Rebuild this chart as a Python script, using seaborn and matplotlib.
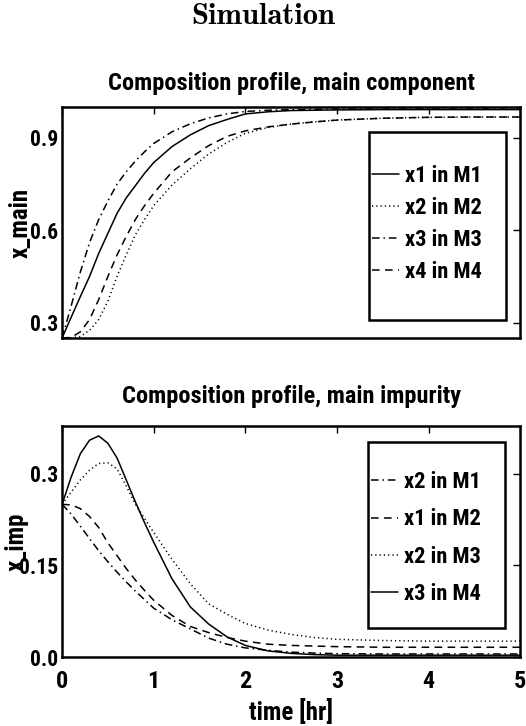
import numpy as np
import pandas as pd
import matplotlib
matplotlib.use("Agg")
import matplotlib.pyplot as plt
from matplotlib import font_manager
from matplotlib.patches import Rectangle
import seaborn as sns

# time grid [hr]
t = [0, 0.1, 0.2, 0.3, 0.4, 0.5, 0.6, 0.7, 0.8, 0.9, 1.0, 1.2, 1.4, 1.6, 1.8,
     2.0, 2.25, 2.5, 2.75, 3.0, 3.5, 4.0, 4.5, 5.0]

# main component profiles
x1_m1 = [0.25, 0.318, 0.385, 0.45, 0.525, 0.59, 0.655, 0.705, 0.745, 0.785, 0.82,
         0.872, 0.91, 0.94, 0.96, 0.978, 0.985, 0.989, 0.99, 0.991, 0.992, 0.992, 0.992, 0.992]
x2_m2 = [0.25, 0.25, 0.255, 0.275, 0.31, 0.37, 0.45, 0.52, 0.585, 0.635, 0.68,
         0.747, 0.8, 0.848, 0.885, 0.915, 0.934, 0.945, 0.952, 0.958, 0.964, 0.967, 0.968, 0.968]
x3_m3 = [0.25, 0.355, 0.465, 0.56, 0.635, 0.695, 0.75, 0.79, 0.825, 0.855, 0.882,
         0.92, 0.946, 0.965, 0.978, 0.986, 0.99, 0.992, 0.993, 0.994, 0.994, 0.994, 0.994, 0.994]
x4_m4 = [0.25, 0.252, 0.27, 0.31, 0.375, 0.45, 0.52, 0.58, 0.635, 0.68, 0.72,
         0.79, 0.835, 0.875, 0.905, 0.923, 0.936, 0.945, 0.952, 0.958, 0.964, 0.967, 0.968, 0.968]

# main impurity profiles
x2_m1 = [0.25, 0.234, 0.214, 0.194, 0.174, 0.156, 0.139, 0.123, 0.108, 0.094, 0.08,
         0.061, 0.046, 0.031, 0.021, 0.015, 0.011, 0.008, 0.0065, 0.0055, 0.005, 0.005, 0.005, 0.005]
x1_m2 = [0.25, 0.249, 0.243, 0.23, 0.212, 0.187, 0.166, 0.145, 0.126, 0.109, 0.093,
         0.068, 0.05, 0.04, 0.032, 0.026, 0.021, 0.019, 0.018, 0.017, 0.016, 0.016, 0.016, 0.016]
x2_m3 = [0.25, 0.27, 0.29, 0.306, 0.317, 0.318, 0.308, 0.28, 0.25, 0.227, 0.204,
         0.16, 0.12, 0.087, 0.07, 0.055, 0.044, 0.037, 0.032, 0.029, 0.027, 0.026, 0.026, 0.026]
x3_m4 = [0.25, 0.295, 0.333, 0.355, 0.362, 0.35, 0.326, 0.29, 0.254, 0.22, 0.188,
         0.128, 0.082, 0.054, 0.033, 0.019, 0.01, 0.006, 0.004, 0.003, 0.003, 0.003, 0.003, 0.003]

main_labels = ["x1 in M1", "x2 in M2", "x3 in M3", "x4 in M4"]
imp_labels = ["x2 in M1", "x1 in M2", "x2 in M3", "x3 in M4"]

SOLID = "-"
DOT = (0, (0.8, 2.0))
DASHDOT = (0, (5, 2.5, 1, 2.5))
DASH = (0, (5, 3.5))

sns.set_style("white")

# prefer a condensed sans if there is one, else plain Liberation Sans
avail = {f.name for f in font_manager.fontManager.ttflist}
fam = "Liberation Sans"
k = 1.0
for cand in ["Liberation Sans Narrow", "Roboto Condensed", "Open Sans Condensed"]:
    if cand in avail:
        fam, k = cand, 1.2
        break
plt.rcParams["font.family"] = [fam, "DejaVu Sans"]
plt.rcParams["font.weight"] = "bold"
for key in ["text.color", "axes.labelcolor", "xtick.color", "ytick.color"]:
    plt.rcParams[key] = "black"

fig = plt.figure(figsize=(5.26, 7.26), dpi=100)
ax1 = fig.add_axes([0.118, 0.5344, 0.871, 0.318])
ax2 = fig.add_axes([0.118, 0.095, 0.871, 0.318])

df_main = pd.DataFrame({"t": t, "x1": x1_m1, "x2": x2_m2, "x3": x3_m3, "x4": x4_m4})
df_imp = pd.DataFrame({"t": t, "a": x2_m1, "b": x1_m2, "c": x2_m3, "d": x3_m4})

for col, lab, ls in zip(["x1", "x2", "x3", "x4"], main_labels, [SOLID, DOT, DASHDOT, DASH]):
    sns.lineplot(data=df_main, x="t", y=col, ax=ax1, color="black", lw=1.1,
                 linestyle=ls, label=lab)
for col, lab, ls in zip(["a", "b", "c", "d"], imp_labels, [DASHDOT, DASH, DOT, SOLID]):
    sns.lineplot(data=df_imp, x="t", y=col, ax=ax2, color="black", lw=1.1,
                 linestyle=ls, label=lab)

# legend placement: (handle start x, entries center y, spacing, frame box)
leg_cfg = {
    ax1: (0.677, 0.495, 0.45, (0.670, 0.078, 0.299, 0.814)),
    ax2: (0.675, 0.515, 0.68, (0.668, 0.126, 0.299, 0.805)),
}

for ax in (ax1, ax2):
    ax.set_xlim(0, 5)
    ax.set_xticks([0, 1, 2, 3, 4, 5])
    ax.tick_params(direction="in", length=5, width=1, top=True, right=True,
                   labelsize=13 * k, pad=3)
    ax.tick_params(axis="x", labelsize=14.5 * k, pad=9)
    for sp in ax.spines.values():
        sp.set_linewidth(1.8)
        sp.set_color("black")
    hx, hy, spacing, box = leg_cfg[ax]
    ax.legend(loc="center left", bbox_to_anchor=(hx, hy), fontsize=13.5 * k,
              handlelength=1.2, handletextpad=0.25, borderpad=0,
              labelspacing=spacing, frameon=False, borderaxespad=0)
    ax.add_patch(Rectangle((box[0], box[1]), box[2], box[3], transform=ax.transAxes,
                           fill=False, lw=1.8, edgecolor="black", zorder=5))

ax1.set_ylim(0.25, 1.0)
ax1.set_yticks([0.3, 0.6, 0.9])
ax1.set_yticklabels(["0.3", "0.6", "0.9"])
ax1.set_xticklabels([])
ax1.set_xlabel("")
ax1.set_ylabel("x_main", fontsize=15 * k, fontweight="bold")
ax1.yaxis.set_label_coords(-0.064, 0.5)
ax1.set_title("Composition profile, main component", fontsize=14.6 * k,
              fontweight="bold", pad=12)

ax2.set_ylim(0, 0.378)
ax2.set_yticks([0.0, 0.15, 0.3])
ax2.set_yticklabels(["0.0", "0.15", "0.3"])
ax2.set_xlabel("time [hr]", fontsize=15 * k, fontweight="bold", labelpad=5)
ax2.set_ylabel("x_imp", fontsize=15 * k, fontweight="bold")
ax2.yaxis.set_label_coords(-0.072, 0.5)
ax2.set_title("Composition profile, main impurity", fontsize=14.6 * k,
              fontweight="bold", pad=17)

fig.text(0.5, 0.977, "Simulation", ha="center", va="center", fontsize=22,
         fontweight="bold", family=["cmb10", "DejaVu Serif"])

fig.savefig("out.png", dpi=100)
